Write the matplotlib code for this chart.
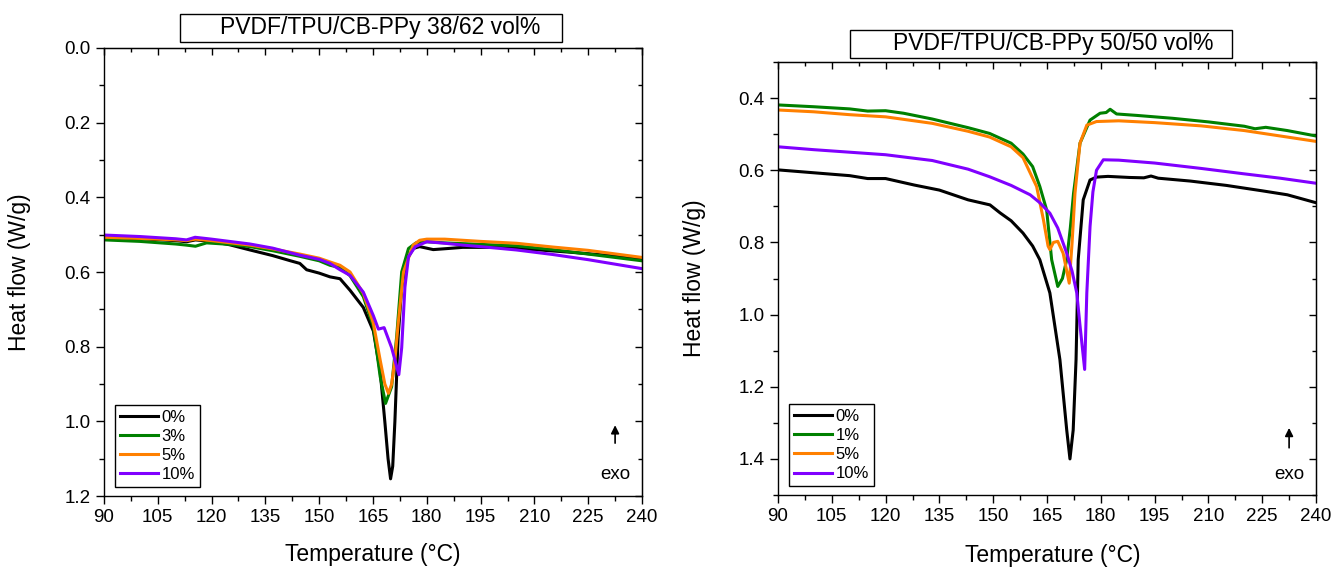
import numpy as np
import matplotlib
matplotlib.use("Agg")
import matplotlib.pyplot as plt
from matplotlib.patches import Rectangle
from matplotlib.ticker import MultipleLocator

plt.rcParams['font.family'] = ['Liberation Sans', 'DejaVu Sans']

# ---- left panel: PVDF/TPU/CB-PPy 38/62 vol% ----
l_t0 = [90, 100, 110, 113, 115.5, 120, 125, 130.7, 137, 142, 144.6, 146.5, 150, 153, 155.8, 158.6,
        162.3, 165.1, 167, 168.3, 169.2, 169.9, 170.5, 171.1, 172, 173, 174.4, 176.2, 178, 181.8,
        186, 190, 200, 210, 220, 230, 240]
l_v0 = [0.507, 0.511, 0.516, 0.519, 0.514, 0.518, 0.527, 0.541, 0.556, 0.57, 0.577, 0.594, 0.603, 0.613,
        0.618, 0.649, 0.695, 0.758, 0.866, 1.001, 1.10, 1.154, 1.12, 1.001, 0.776, 0.641, 0.568, 0.537,
        0.532, 0.54, 0.537, 0.534, 0.534, 0.54, 0.547, 0.555, 0.565]

l_t3 = [90, 100, 110, 113, 115.5, 118.6, 125, 130.7, 137, 144.6, 150, 153, 155.8, 158.6, 162.3, 165.1,
        167, 168.5, 170.2, 171.6, 173, 174.9, 177, 180, 185, 195, 205, 215, 225, 240]
l_v3 = [0.514, 0.518, 0.525, 0.528, 0.531, 0.522, 0.526, 0.532, 0.543, 0.558, 0.57, 0.582, 0.588, 0.61,
        0.666, 0.746, 0.88, 0.952, 0.907, 0.773, 0.6, 0.537, 0.522, 0.519, 0.522, 0.526, 0.53, 0.54,
        0.552, 0.57]

l_t5 = [90, 100, 110, 113, 115.5, 120, 130.7, 137, 144.6, 150, 153, 155.8, 158.6, 162.3, 165.1, 167,
        168.3, 169.3, 170.2, 171.1, 172, 173.5, 176.2, 178, 180, 185, 195, 205, 215, 225, 240]
l_v5 = [0.507, 0.51, 0.514, 0.516, 0.512, 0.516, 0.528, 0.538, 0.552, 0.563, 0.573, 0.582, 0.6, 0.657,
        0.737, 0.836, 0.9, 0.925, 0.9, 0.836, 0.74, 0.6, 0.528, 0.515, 0.512, 0.512, 0.518, 0.523,
        0.533, 0.542, 0.561]

l_t10 = [90, 100, 110, 113, 115.4, 120, 130.7, 137, 144.6, 150, 153, 155.8, 158.6, 162.3, 165.1, 166.5,
         168.1, 170.2, 172.2, 173, 173.9, 174.9, 176.8, 180, 185, 190, 195, 205, 215, 225, 240]
l_v10 = [0.501, 0.505, 0.511, 0.514, 0.507, 0.512, 0.525, 0.536, 0.555, 0.566, 0.577, 0.594, 0.609,
         0.654, 0.717, 0.753, 0.749, 0.803, 0.875, 0.803, 0.641, 0.559, 0.532, 0.519, 0.523, 0.528,
         0.532, 0.541, 0.553, 0.567, 0.591]

# ---- right panel: PVDF/TPU/CB-PPy 50/50 vol% ----
r_t0 = [90, 100, 110, 115, 120, 128, 135, 143, 149.1, 151.9, 155, 158.3, 161, 163, 165.8, 168.6, 170.5,
        171.4, 172.3, 173.1, 173.7, 175.1, 177, 178.8, 182, 188, 192, 194, 196, 205, 215, 225, 232, 240]
r_v0 = [0.599, 0.607, 0.615, 0.623, 0.623, 0.641, 0.655, 0.682, 0.696, 0.718, 0.74, 0.774, 0.81, 0.848,
        0.94, 1.125, 1.32, 1.40, 1.32, 1.125, 0.848, 0.682, 0.627, 0.619, 0.617, 0.62, 0.621, 0.616,
        0.622, 0.63, 0.642, 0.657, 0.668, 0.69]

r_t1 = [90, 100, 110, 115, 120, 125, 133, 143, 149, 155, 158.3, 161, 163, 164.9, 166.3, 168, 169.3,
        170.5, 171.5, 172.4, 174.2, 177, 179.8, 181.5, 182.6, 184.4, 190, 200, 210, 220, 223, 226, 232, 240]
r_v1 = [0.419, 0.424, 0.43, 0.436, 0.435, 0.442, 0.458, 0.482, 0.498, 0.525, 0.555, 0.59, 0.645, 0.71,
        0.848, 0.922, 0.9, 0.848, 0.76, 0.664, 0.525, 0.461, 0.442, 0.44, 0.431, 0.444, 0.448, 0.456,
        0.466, 0.478, 0.485, 0.481, 0.49, 0.505]

r_t5 = [90, 100, 110, 120, 133, 143, 149, 155, 158.3, 162.1, 164, 165.3, 165.8, 166.8, 168, 169.5, 171.2,
        172, 172.8, 174.2, 176.1, 178.8, 185, 195, 208, 220, 230, 240]
r_v5 = [0.433, 0.438, 0.446, 0.452, 0.47, 0.492, 0.508, 0.535, 0.565, 0.645, 0.737, 0.81, 0.82, 0.8,
        0.797, 0.83, 0.913, 0.8, 0.664, 0.525, 0.475, 0.465, 0.463, 0.468, 0.477, 0.49, 0.505, 0.52]

r_t10 = [90, 100, 110, 120, 133, 143, 149, 155, 160.3, 163, 165.8, 168, 170.5, 172, 173.3, 174.2, 175.5,
         176.1, 177, 177.8, 178.8, 180.7, 185, 195, 208, 220, 230, 240]
r_v10 = [0.535, 0.543, 0.55, 0.557, 0.573, 0.597, 0.618, 0.642, 0.668, 0.69, 0.719, 0.76, 0.83, 0.88,
         0.94, 1.03, 1.152, 0.94, 0.756, 0.66, 0.6, 0.571, 0.572, 0.58, 0.595, 0.61, 0.622, 0.636]

colors = ['black', '#008000', '#ff8000', '#8000ff']

fig = plt.figure(figsize=(13.33, 5.67), dpi=100)
axL = fig.add_axes([104/1333, 1-496/567, 538/1333, 448/567])
axR = fig.add_axes([778/1333, 1-495/567, 538/1333, 433/567])

panels = [
    (axL, [(l_t0, l_v0), (l_t3, l_v3), (l_t5, l_v5), (l_t10, l_v10)], ['0%', '3%', '5%', '10%'],
     (0, 1.2), 'PVDF/TPU/CB-PPy 38/62 vol%', (0.118, 0.158)),
    (axR, [(r_t0, r_v0), (r_t1, r_v1), (r_t5, r_v5), (r_t10, r_v10)], ['0%', '1%', '5%', '10%'],
     (0.3, 1.5), 'PVDF/TPU/CB-PPy 50/50 vol%', (0.109, 0.155)),
]

for ax, series, labels, ylim, title, arr in panels:
    for (t, v), c, lab in zip(series, colors, labels):
        ax.plot(t, v, color=c, lw=2.2, label=lab, solid_joinstyle='round')
    ax.set_xlim(90, 240)
    ax.set_ylim(ylim[1], ylim[0])
    ax.xaxis.set_major_locator(MultipleLocator(15))
    ax.xaxis.set_minor_locator(MultipleLocator(7.5))
    ax.yaxis.set_major_locator(MultipleLocator(0.2))
    ax.yaxis.set_minor_locator(MultipleLocator(0.1))
    ax.yaxis.set_major_formatter(matplotlib.ticker.FormatStrFormatter('%.1f'))
    if ylim[0] > 0:
        ax.set_yticks(np.arange(0.4, 1.41, 0.2))
    ax.tick_params(which='both', direction='out', labelsize=13.5, width=1.0)
    ax.tick_params(which='major', length=6)
    ax.tick_params(which='minor', length=3.5)
    # inward ticks on top and right
    sx = ax.secondary_xaxis('top')
    sx.set_xticks(ax.get_xticks())
    sx.xaxis.set_minor_locator(MultipleLocator(7.5))
    sx.tick_params(which='both', direction='in', labeltop=False, width=1.0)
    sx.tick_params(which='major', length=5)
    sx.tick_params(which='minor', length=3)
    sy = ax.secondary_yaxis('right')
    sy.set_yticks(ax.get_yticks())
    sy.yaxis.set_minor_locator(MultipleLocator(0.1))
    sy.tick_params(which='both', direction='in', labelright=False, width=1.0)
    sy.tick_params(which='major', length=5)
    sy.tick_params(which='minor', length=3)
    for s in ax.spines.values():
        s.set_linewidth(1.0)
    ax.set_xlabel('Temperature (°C)', fontsize=16.5)
    ax.set_ylabel('Heat flow (W/g)', fontsize=16.5)
    leg = ax.legend(loc='lower left', bbox_to_anchor=(0.02, 0.02), borderaxespad=0, fontsize=12,
                    handlelength=2.3, handletextpad=0.2, labelspacing=0.25, borderpad=0.3,
                    fancybox=False, edgecolor='black', framealpha=1)
    leg.get_frame().set_linewidth(1.0)
    ax.text(0.95, 0.028, 'exo', transform=ax.transAxes, fontsize=13.5, ha='center', va='bottom')
    ax.annotate('', xy=(0.95, arr[1]), xytext=(0.95, arr[0]), xycoords='axes fraction',
                arrowprops=dict(arrowstyle='-|>', color='black', lw=1.2, mutation_scale=12,
                                shrinkA=0, shrinkB=0))

axL.xaxis.set_label_coords(0.5, -0.105)
axR.xaxis.set_label_coords(0.51, -0.113)
axL.yaxis.set_label_coords(-0.136, 0.5)
axR.yaxis.set_label_coords(-0.134, 0.5)

# title boxes
for ax, x0, x1, y0, y1, tx, ty, title in [
        (axL, 0.141, 0.851, 1.0134, 1.0759, 0.513, 1.045, panels[0][4]),
        (axR, 0.134, 0.844, 1.0092, 1.0739, 0.512, 1.0416, panels[1][4])]:
    ax.add_patch(Rectangle((x0, y0), x1 - x0, y1 - y0, transform=ax.transAxes, fill=False,
                           edgecolor='black', lw=1.0, clip_on=False))
    ax.text(tx, ty, title, transform=ax.transAxes, ha='center', va='center', fontsize=16.5)

fig.savefig('out.png', dpi=100)
